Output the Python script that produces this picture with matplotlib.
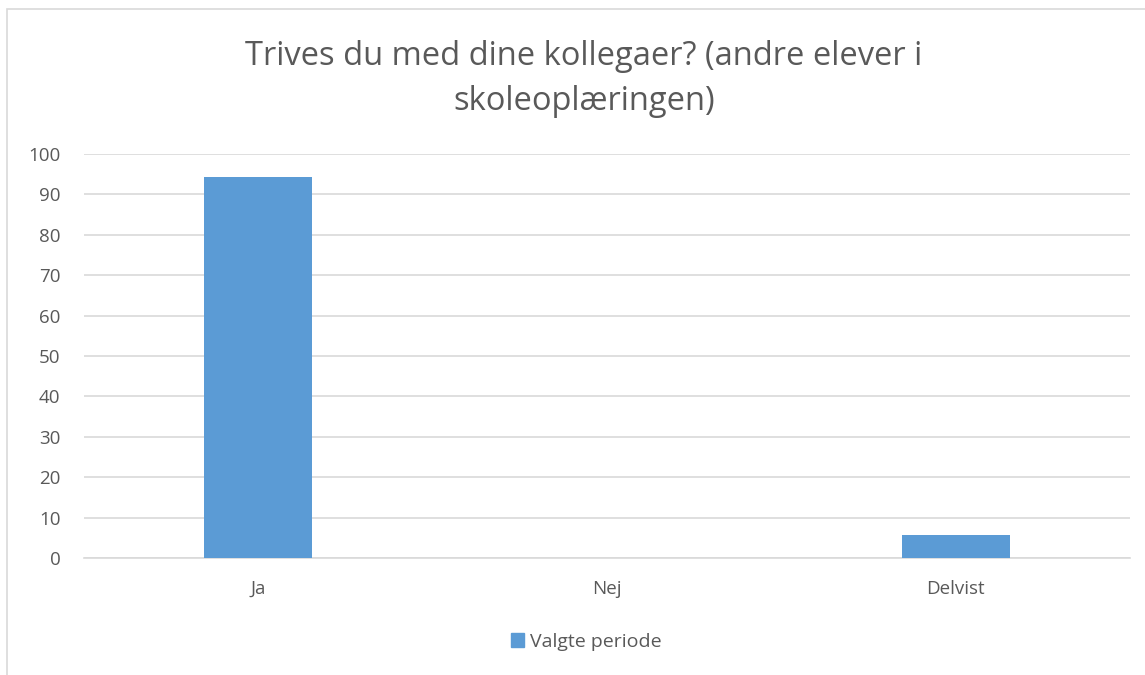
import matplotlib
matplotlib.use("Agg")
import matplotlib.pyplot as plt
from matplotlib.patches import Rectangle, Patch

categories = ["Ja", "Nej", "Delvist"]
values = [94.4, 0, 5.6]
series_name = "Valgte periode"
title = "Trives du med dine kollegaer? (andre elever i\nskoleoplæringen)"

plt.rcParams['font.family'] = ['Open Sans', 'DejaVu Sans']
txt = '#595959'
blue = '#5b9bd5'

fig = plt.figure(figsize=(11.45, 6.75), dpi=100)
# chart frame
fig.patches.append(Rectangle((7 / 1145, -0.01), 1.01, 1 - 9 / 675 + 0.01,
                             transform=fig.transFigure, fill=False,
                             edgecolor='#d9d9d9', linewidth=1.2))

ax = fig.add_axes([84 / 1145, 1 - 558 / 675, (1130 - 84) / 1145, (558 - 154) / 675])
x = range(len(categories))
ax.bar(x, values, width=0.31, color=blue, zorder=3)
ax.set_xlim(-0.5, 2.5)
ax.set_ylim(0, 100)
ax.set_yticks(range(0, 101, 10))
ax.set_xticks(list(x))
ax.set_xticklabels(categories)
ax.grid(axis='y', color='#d9d9d9', linewidth=1.2, zorder=0)
for s in ['top', 'right', 'left']:
    ax.spines[s].set_visible(False)
ax.spines['bottom'].set_color('#d9d9d9')
ax.spines['bottom'].set_linewidth(1.2)
ax.tick_params(axis='both', length=0, colors=txt, labelsize=13.5)
ax.tick_params(axis='y', pad=17)
ax.tick_params(axis='x', pad=16)

fig.text(0.51, 1 - 79 / 675, title, ha='center', va='center', fontsize=23.5,
         color=txt, linespacing=1.5)

fig.legend(handles=[Patch(color=blue, label=series_name)], loc='center',
           bbox_to_anchor=(0.512, 1 - 642 / 675), frameon=False, fontsize=14,
           labelcolor=txt, handlelength=0.7, handleheight=0.7, handletextpad=0.3)

fig.savefig("out.png", dpi=100)
